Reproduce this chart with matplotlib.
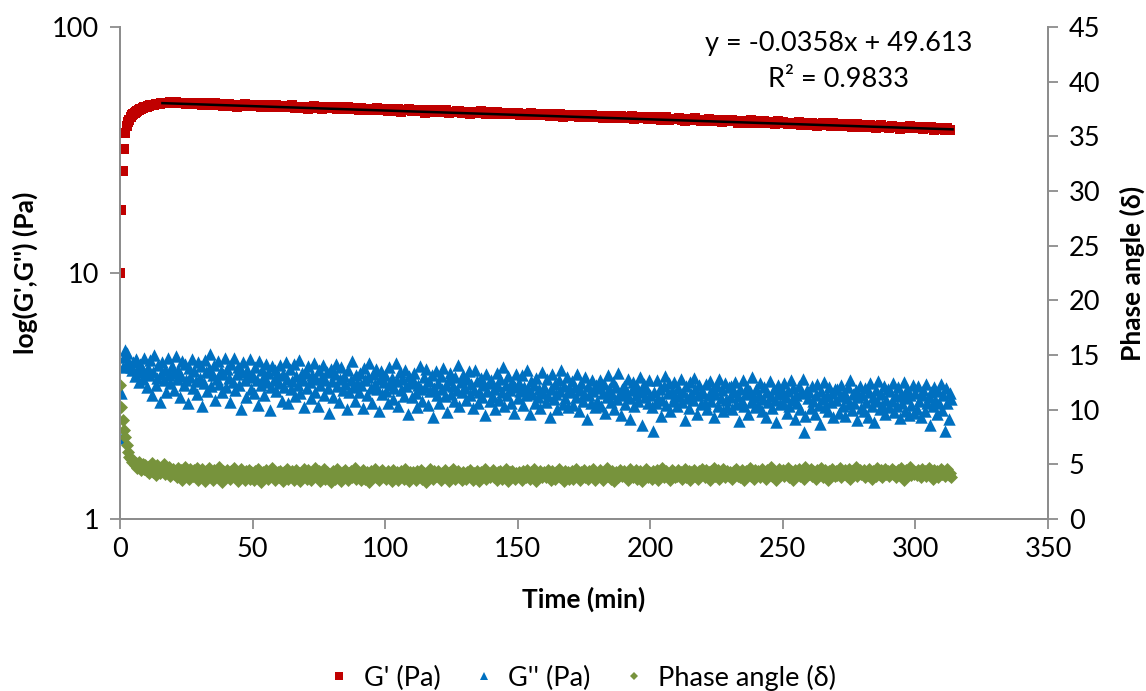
import numpy as np
import matplotlib
matplotlib.use("Agg")
import matplotlib.pyplot as plt
from matplotlib.lines import Line2D

plt.rcParams['font.family'] = ['Lato', 'Open Sans', 'DejaVu Sans']

# ---- measurement data -------------------------------------------------------
# Storage modulus G' (stored in tenths of Pa): 0.5 min steps during the rise,
# then one reading per minute.
T_GP_RISE = np.arange(0.0, 17.0, 0.5)
T_GP_LATE = np.arange(17.0, 314.0, 1.0)
GP_RISE_TENTHS = """
100 180 260 320 370 395 410 420 430 438 444 449 453 457 460 463 466 468 471 473
475 477 478 480 481 482 484 485 486 487 488 489 490 491
"""
GP_LATE_TENTHS = """
493 492 494
492 494 490 491 493 488 490 491 487 489
488 483 490 484 480 486 489 482 486 479
484 487 478 482 475 484 480 486 477 482
477 482 480 471 480 481 474 477 471 481
477 471 479 475 471 480 469 472 475 470
475 466 471 476 468 472 463 471 473 467
471 467 463 471 468 463 471 463 466 468
462 469 464 458 466 464 459 467 460 465
461 456 466 461 457 463 453 461 458 464
454 458 461 455 458 449 456 458 452 456
458 451 454 458 448 453 450 454 457 447
452 453 444 450 451 446 454 447 444 451
445 449 451 441 447 445 441 449 441 447
446 437 444 445 440 447 437 441 445 437
440 443 435 444 436 439 442 432 439 436
440 434 438 429 436 440 431 434 437 429
434 436 427 432 433 428 436 426 431 433
426 431 429 433 423 428 425 431 425 422
429 422 429 425 420 426 429 418 424 421
424 426 419 415 422 423 417 425 419 415
420 413 423 417 414 419 420 412 415 418
413 419 415 409 416 413 407 415 417 409
413 408 414 415 406 410 410 403 413 407
412 407 402 409 407 404 411 401 406 408
401 407 404 397 405 406 400 403 396 406
401 396 404 401 397 402 393 400 403 394
400 398 392 400 395 390 397 400 391 394
390 397 393 394 386 393 394 389 396 387
391 388 393 384 391 388 393 383 388 390
386 383 388 383
"""

# Loss modulus G'' (hundredths of Pa) and phase angle (tenths of a degree),
# one reading every 0.5 min.
T_SWEEP = np.arange(0.0, 314.0, 0.5)
GPP_HUNDREDTHS = """
213 325 416 455 487 471 438 419 414 402 436 381 447 395 362 428 409 371 452 388
345 412 386 441 318 397 463 352 376 421 299 388 434 367 405 329 451 384 358 417
392 336 459 371 404 312 383 437 351 426 368 295 411 378 448 341 399 363 322 433
376 418 289 357 442 395 331 406 469 348 384 423 306 372 439 355 401 327 387 452
343 409 374 298 428 362 451 335 389 416 352 281 397 433 368 314 405 379 446 338
381 324 413 366 292 437 349 402 375 318 428 359 391 277 344 419 366 402 331 385
357 421 303 388 345 436 372 296 409 338 364 427 315 383 351 445 326 392 368 284
396 341 418 359 309 384 431 328 371 289 403 352 377 424 318 366 395 342 270 408
363 312 389 426 347 298 372 415 336 381 354 279 402 329 367 438 344 301 386 358
327 394 351 283 412 366 318 379 432 341 296 388 355 409 337 274 371 398 322 360
384 331 297 415 352 376 308 341 429 363 287 396 334 372 315 403 348 266 381 356
312 369 393 326 284 351 417 338 302 377 345 408 291 364 331 386 259 342 399 318
357 296 381 338 412 315 349 273 366 394 322 347 301 378 336 421 288 359 327 385
341 306 372 398 319 354 282 336 405 363 297 328 376 312 349 264 387 331 358 302
368 314 339 279 392 346 305 371 327 413 289 352 318 381 336 295 362 271 344 389
309 357 331 384 292 345 318 403 337 268 364 321 349 296 376 314 338 283 395 326
345 298 372 316 261 339 387 307 354 323 279 366 332 402 294 348 311 377 285 336
327 364 291 343 312 389 274 336 358 303 321 378 256 347 318 295 367 331 284 352
302 341 369 288 326 353 271 314 384 337 298 322 359 279 345 307 391 318 264 338
348 293 325 371 309 256 334 362 287 319 345 301 378 328 241 353 314 338 296 367
318 284 228 327 296 368 311 339 262 305 346 381 291 324 357 276 332 303 361 315
289 341 316 372 298 327 253 346 311 283 359 322 304 376 337 268 318 349 294 331
326 297 354 281 318 365 302 338 259 323 347 289 372 311 335 276 358 306 284 343
312 348 279 327 361 294 316 251 338 303 369 287 322 345 268 331 299 377 314 285
337 292 319 356 274 308 343 261 327 298 364 315 283 339 306 247 352 321 293 334
296 358 314 271 332 289 367 305 341 256 318 295 346 279 324 371 226 263 336 311
327 283 346 301 266 319 355 292 244 331 308 362 285 316 274 343 298 325 259 337
304 338 271 316 352 287 325 262 309 344 293 369 278 321 296 335 253 314 348 282
318 276 342 299 261 327 356 288 312 248 334 301 365 279 323 292 347 268 306 339
284 331 302 358 273 315 289 343 257 322 297 361 276 309 337 265 318 292 349 271
326 281 347 303 259 318 336 274 355 296 312 241 329 287 344 306 268 332 295 353
278 319 228 341 297 254 325 308
"""
PHASE_TENTHS = """
123 102 91 81 75 68 61 57 55 52 54 49 51 47 52 48 45 50 46 49
44 48 42 47 51 43 46 40 49 45 42 47 44 50 41 46 43 48 39 45
46 41 44 38 47 42 45 36 43 48 40 44 37 46 42 39 45 41 47 36
43 38 46 40 35 44 41 47 39 42 36 45 40 43 38 48 41 34 44 40
39 45 42 37 44 40 47 38 43 35 41 46 39 42 36 44 40 45 37 43
41 36 44 39 46 42 34 40 43 38 45 41 37 44 39 47 42 36 40 43
38 44 40 35 43 41 46 37 42 39 44 36 41 45 38 42 35 43 40 46
42 37 45 40 36 43 39 47 41 38 44 35 42 40 46 37 43 39 41 34
40 44 37 42 46 38 41 35 43 40 45 39 36 42 44 38 41 47 37 43
39 42 36 45 40 37 43 41 34 44 39 42 46 38 41 36 43 40 45 38
41 37 44 39 42 35 45 40 38 43 36 41 44 39 37 46 40 42 35 43
38 43 40 36 44 41 39 45 37 42 40 34 43 38 46 41 37 44 39 42
44 39 36 42 40 45 38 41 35 43 39 46 40 37 42 44 38 41 36 43
40 37 43 39 45 41 36 42 38 44 40 35 43 41 39 46 37 42 40 38
42 45 38 41 36 43 40 44 37 42 39 46 41 35 43 38 44 40 37 42
39 43 41 36 44 40 38 45 42 37 43 39 46 41 35 42 40 44 38 41
43 38 42 45 39 36 44 41 37 43 40 46 38 42 39 35 44 41 43 37
40 44 37 42 46 39 41 36 43 40 45 38 42 37 44 41 39 46 36 42
38 42 45 40 36 43 41 47 39 42 37 44 40 35 43 41 38 45 42 39
44 39 41 36 43 46 40 38 42 45 37 41 44 39 35 42 40 46 38 43
41 37 44 42 39 45 36 43 40 47 38 42 44 39 41 36 45 40 43 38
39 45 40 43 37 42 46 38 41 44 36 43 40 45 39 42 37 44 41 46
42 38 45 40 43 36 44 41 47 39 42 45 37 43 40 46 38 42 44 39
43 40 37 44 41 46 39 42 38 45 41 36 44 40 43 47 39 42 37 45
40 44 42 38 46 41 43 37 45 40 42 48 39 44 41 36 43 46 40 42
45 39 43 41 47 38 44 42 36 45 40 43 46 39 42 44 37 48 41 43
41 46 39 44 42 37 45 40 43 47 38 42 45 41 36 44 40 46 42 39
44 40 42 47 38 43 41 45 39 42 46 37 44 40 43 48 39 42 45 41
42 45 38 43 40 46 41 37 44 42 39 47 43 40 45 38 42 46 41 44
39 43 46 41 44 38 42 45 40 47 41 36 43 45 39 42 48 40 44 41
43 40 45 42 38 46 41 44 39 42 47 40 43 37 45 41 44 38 42 46
41 44 39 43 46 40 42 38
"""

# Linear trendline fitted to G'
TREND_SLOPE = -0.0358
TREND_INTERCEPT = 49.613
TREND_R2 = 0.9833
TREND_RANGE = (16.0, 314.0)

X_TICKS = [0, 50, 100, 150, 200, 250, 300, 350]
LEFT_TICKS = [1, 10, 100]
RIGHT_TICKS = [0, 5, 10, 15, 20, 25, 30, 35, 40, 45]

SERIES_LABELS = ["G' (Pa)", "G'' (Pa)", "Phase angle (\u03b4)"]


def parse(block, scale):
    return np.array(block.split(), dtype=float) / scale


t_gp = np.concatenate([T_GP_RISE, T_GP_LATE])
g_prime = np.concatenate([parse(GP_RISE_TENTHS, 10), parse(GP_LATE_TENTHS, 10)])
g_double = parse(GPP_HUNDREDTHS, 100)
phase = parse(PHASE_TENTHS, 10)

# ---- styling -----------------------------------------------------------------
RED = "#C00000"
BLUE = "#0070C0"
GREEN = "#77933C"
AXIS_GREY = "#8C8C8C"
TEXT = "#000000"
TICK_FS = 19.5
LABEL_FS = 19

fig = plt.figure(figsize=(11.46, 6.91), dpi=100)
ax = fig.add_axes([0.1047, 0.2489, 0.8098, 0.712])
ax2 = ax.twinx()

ax.scatter(t_gp, g_prime, marker="s", s=52, color=RED, linewidths=0, zorder=2)
ax.scatter(T_SWEEP, g_double, marker="^", s=80, color=BLUE, linewidths=0, zorder=2)
xt = np.array(TREND_RANGE)
ax.plot(xt, TREND_SLOPE * xt + TREND_INTERCEPT, color="black", lw=1.8, zorder=3)
ax2.scatter(T_SWEEP, phase, marker="D", s=44, color=GREEN, linewidths=0, zorder=2)

ax.set_yscale("log")
ax.set_ylim(1, 100)
ax.set_xlim(0, 350)
ax2.set_ylim(0, 45)

ax.set_xticks(X_TICKS)
ax.set_xticklabels([str(v) for v in X_TICKS])
ax.set_yticks(LEFT_TICKS)
ax.set_yticklabels([str(v) for v in LEFT_TICKS])
ax.yaxis.set_minor_locator(matplotlib.ticker.NullLocator())
ax2.set_yticks(RIGHT_TICKS)
ax2.set_yticklabels([str(v) for v in RIGHT_TICKS])

for a in (ax, ax2):
    a.spines["top"].set_visible(False)
    for side in ("left", "right", "bottom"):
        a.spines[side].set_color(AXIS_GREY)
        a.spines[side].set_linewidth(1.3)
    a.tick_params(which="both", direction="out", length=7, width=1.3,
                  color=AXIS_GREY, labelsize=TICK_FS, labelcolor=TEXT)
ax.tick_params(axis="x", pad=6)
ax.tick_params(axis="y", pad=8)
ax2.tick_params(axis="y", pad=8)

ax.set_xlabel("Time (min)", fontsize=LABEL_FS, fontweight="bold", labelpad=18)
ax.set_ylabel("log(G',G'') (Pa)", fontsize=LABEL_FS, fontweight="bold", labelpad=10)
ax2.set_ylabel("Phase angle (\u03b4)", fontsize=LABEL_FS, fontweight="bold", labelpad=14)

ax.text(0.774, 0.967, f"y = {TREND_SLOPE}x + {TREND_INTERCEPT}", transform=ax.transAxes,
        ha="center", va="center", fontsize=TICK_FS, color=TEXT)
ax.text(0.774, 0.894, f"R\u00b2 = {TREND_R2}", transform=ax.transAxes,
        ha="center", va="center", fontsize=TICK_FS, color=TEXT)

handles = [
    Line2D([], [], ls="none", marker="s", ms=5.5, color=RED, mew=0),
    Line2D([], [], ls="none", marker="^", ms=6, color=BLUE, mew=0),
    Line2D([], [], ls="none", marker="D", ms=4.5, color=GREEN, mew=0),
]
fig.legend(handles, SERIES_LABELS, loc="lower center", bbox_to_anchor=(0.508, -0.035),
           ncol=3, frameon=False, fontsize=TICK_FS, handlelength=0.8,
           handletextpad=0.5, columnspacing=1.2)

fig.savefig("out.png", dpi=100)
